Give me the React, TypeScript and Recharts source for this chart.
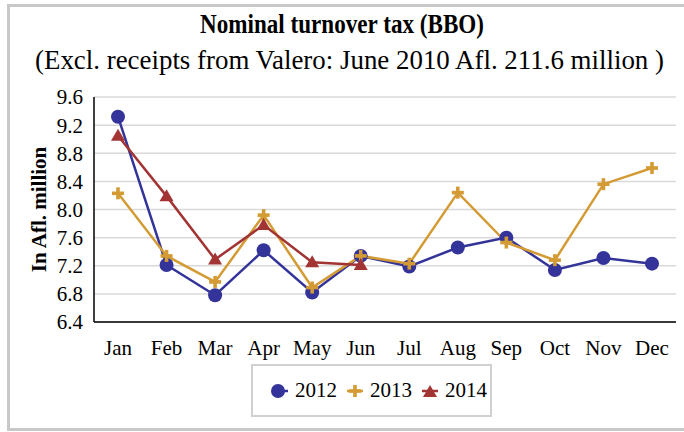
import React from 'react'
import { LineChart, Line, XAxis, YAxis, CartesianGrid } from 'recharts'

const months = ['Jan', 'Feb', 'Mar', 'Apr', 'May', 'Jun', 'Jul', 'Aug', 'Sep', 'Oct', 'Nov', 'Dec']
const y2012 = [9.32, 7.21, 6.78, 7.42, 6.82, 7.34, 7.19, 7.46, 7.6, 7.14, 7.31, 7.23]
const y2013 = [8.23, 7.34, 6.97, 7.92, 6.89, 7.34, 7.23, 8.24, 7.53, 7.28, 8.36, 8.59]
const y2014 = [9.05, 8.19, 7.29, 7.78, 7.25, 7.21]
const yTicks = [6.4, 6.8, 7.2, 7.6, 8.0, 8.4, 8.8, 9.2, 9.6]

const BLUE = '#333399'
const GOLD = '#d49b34'
const RED = '#a33434'
const FONT = '"Liberation Serif", "Times New Roman", serif'

const data = months.map((m, i) => ({
  month: m,
  '2012': y2012[i],
  '2013': y2013[i],
  '2014': i < y2014.length ? y2014[i] : null,
}))

const CircleDot = (props: any) => {
  const { cx, cy } = props
  if (cx == null || cy == null) return null
  return <circle cx={cx} cy={cy} r={7} fill={BLUE} />
}

const PlusDot = (props: any) => {
  const { cx, cy } = props
  if (cx == null || cy == null) return null
  return (
    <g fill={GOLD}>
      <rect x={cx - 6} y={cy - 1.8} width={12} height={3.6} />
      <rect x={cx - 1.8} y={cy - 6} width={3.6} height={12} />
    </g>
  )
}

const TriDot = (props: any) => {
  const { cx, cy, value } = props
  if (cx == null || cy == null || value == null) return null
  return <path d={`M${cx},${cy - 7} L${cx + 7},${cy + 5} L${cx - 7},${cy + 5} Z`} fill={RED} />
}

const legendItems = [
  { name: '2012', color: BLUE, shape: 'circle' },
  { name: '2013', color: GOLD, shape: 'plus' },
  { name: '2014', color: RED, shape: 'tri' },
]

const LegendBox = () => (
  <div
    style={{
      position: 'absolute',
      left: 251,
      top: 364,
      width: 241,
      height: 53,
      border: '2px solid #d0d0d0',
      boxSizing: 'border-box',
      display: 'flex',
      alignItems: 'center',
      paddingLeft: 17,
      fontFamily: FONT,
      fontSize: 21,
      color: '#000',
    }}
  >
    {legendItems.map(it => (
      <div key={it.name} style={{ display: 'flex', alignItems: 'center', marginRight: 8 }}>
        <svg width={20} height={16} style={{ marginRight: 5 }}>
          <line x1={2} y1={8} x2={18} y2={8} stroke={it.color} strokeWidth={2.5} />
          {it.shape === 'circle' && <circle cx={8} cy={8} r={7} fill={it.color} />}
          {it.shape === 'plus' && (
            <g fill={it.color}>
              <rect x={4} y={6.2} width={12} height={3.6} />
              <rect x={8.2} y={2} width={3.6} height={12} />
            </g>
          )}
          {it.shape === 'tri' && <path d="M10,2 L17,14 L3,14 Z" fill={it.color} />}
        </svg>
        <span>{it.name}</span>
      </div>
    ))}
  </div>
)

const tickStyle = { fontFamily: FONT, fontSize: 21, fill: '#000' }

export default function App() {
  return (
    <div style={{ position: 'absolute', left: 0, top: 0, width: 684, height: 432, background: '#fff', overflow: 'hidden' }}>
      <div
        style={{
          position: 'absolute',
          left: 7,
          top: 4,
          width: 700,
          height: 427,
          border: '3px solid #c8c8c8',
          boxSizing: 'border-box',
        }}
      />
      <svg width={684} height={90} style={{ position: 'absolute', left: 0, top: 0 }}>
        <text
          x={200}
          y={33}
          fontFamily={FONT}
          fontWeight="bold"
          fontSize={28}
          textLength={284}
          lengthAdjust="spacingAndGlyphs"
        >
          Nominal turnover tax (BBO)
        </text>
        <text x={35} y={69} fontFamily={FONT} fontSize={27} textLength={629} lengthAdjust="spacingAndGlyphs">
          (Excl. receipts from Valero: June 2010 Afl. 211.6 million )
        </text>
      </svg>
      <div style={{ position: 'absolute', left: 0, top: 0 }}>
        <LineChart width={684} height={432} data={data} margin={{ top: 97, right: 8, bottom: 80, left: 44 }}>
          <CartesianGrid vertical={false} stroke="#d9d9d9" strokeWidth={1.5} />
          <XAxis
            dataKey="month"
            padding={{ left: 24, right: 24 }}
            interval={0}
            tick={tickStyle}
            tickLine={false}
            tickMargin={12}
            axisLine={{ stroke: '#000', strokeWidth: 1.5 }}
          />
          <YAxis
            width={50}
            domain={[6.4, 9.6]}
            ticks={yTicks}
            interval={0}
            tickFormatter={(v: number) => v.toFixed(1)}
            tick={tickStyle}
            tickLine={false}
            tickMargin={5}
            axisLine={{ stroke: '#000', strokeWidth: 1.5 }}
            label={{
              value: 'In Afl. million',
              angle: -90,
              position: 'insideLeft',
              offset: -5,
              style: { fontFamily: FONT, fontSize: 21, fontWeight: 'bold', fill: '#000', textAnchor: 'middle' },
            }}
          />
          <Line dataKey="2012" stroke={BLUE} strokeWidth={2.5} dot={<CircleDot />} isAnimationActive={false} />
          <Line dataKey="2013" stroke={GOLD} strokeWidth={2.5} dot={<PlusDot />} isAnimationActive={false} />
          <Line dataKey="2014" stroke={RED} strokeWidth={2.5} dot={<TriDot />} isAnimationActive={false} />
        </LineChart>
      </div>
      <LegendBox />
    </div>
  )
}
